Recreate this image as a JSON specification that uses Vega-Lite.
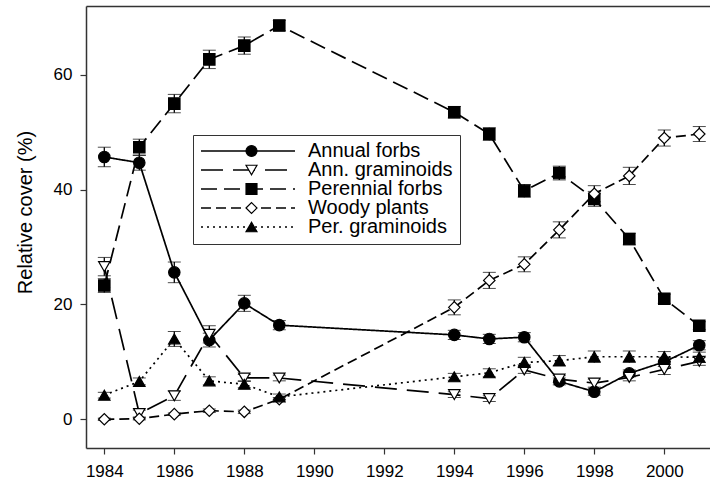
{
  "$schema": "https://vega.github.io/schema/vega-lite/v6.json",
  "width": 624,
  "height": 442,
  "autosize": {"type": "none"},
  "padding": {"left": 86, "top": 6, "right": 0, "bottom": 32},
  "background": "white",
  "config": {
    "view": {"stroke": null},
    "font": "Liberation Sans",
    "axis": {"grid": false, "domainColor": "#333", "tickColor": "#333", "labelColor": "black", "titleColor": "black", "labelFont": "Liberation Sans", "titleFont": "Liberation Sans", "domainWidth": 1.5, "tickWidth": 1.2}
  },
  "data": {"values": [
    {"year": 1984, "series": "Annual forbs", "group": "Annual forbs", "cover": 45.7, "err": 1.7},
    {"year": 1985, "series": "Annual forbs", "group": "Annual forbs", "cover": 44.7, "err": 1.3},
    {"year": 1986, "series": "Annual forbs", "group": "Annual forbs", "cover": 25.6, "err": 1.8},
    {"year": 1987, "series": "Annual forbs", "group": "Annual forbs", "cover": 13.8, "err": 1.2},
    {"year": 1988, "series": "Annual forbs", "group": "Annual forbs", "cover": 20.2, "err": 1.4},
    {"year": 1989, "series": "Annual forbs", "group": "Annual forbs", "cover": 16.4, "err": 0.8},
    {"year": 1994, "series": "Annual forbs", "group": "Annual forbs", "cover": 14.7, "err": 0.8},
    {"year": 1995, "series": "Annual forbs", "group": "Annual forbs", "cover": 14.0, "err": 0.8},
    {"year": 1996, "series": "Annual forbs", "group": "Annual forbs", "cover": 14.3, "err": 0.8},
    {"year": 1997, "series": "Annual forbs", "group": "Annual forbs", "cover": 6.6, "err": 0.6},
    {"year": 1998, "series": "Annual forbs", "group": "Annual forbs", "cover": 4.8, "err": 0.6},
    {"year": 1999, "series": "Annual forbs", "group": "Annual forbs", "cover": 8.0, "err": 0.6},
    {"year": 2000, "series": "Annual forbs", "group": "Annual forbs", "cover": 10.0, "err": 0.8},
    {"year": 2001, "series": "Annual forbs", "group": "Annual forbs", "cover": 12.9, "err": 0.8},
    {"year": 1984, "series": "Ann. graminoids", "group": "Ann. graminoids", "cover": 26.6, "err": 1.6},
    {"year": 1985, "series": "Ann. graminoids", "group": "Ann. graminoids", "cover": 1.0, "err": 0.6},
    {"year": 1986, "series": "Ann. graminoids", "group": "Ann. graminoids", "cover": 4.1, "err": 0.8},
    {"year": 1987, "series": "Ann. graminoids", "group": "Ann. graminoids", "cover": 14.8, "err": 1.5},
    {"year": 1988, "series": "Ann. graminoids", "group": "Ann. graminoids", "cover": 7.2, "err": 0.6},
    {"year": 1989, "series": "Ann. graminoids", "group": "Ann. graminoids", "cover": 7.2, "err": 0.5},
    {"year": 1994, "series": "Ann. graminoids", "group": "Ann. graminoids", "cover": 4.3, "err": 0.5},
    {"year": 1995, "series": "Ann. graminoids", "group": "Ann. graminoids", "cover": 3.6, "err": 0.5},
    {"year": 1996, "series": "Ann. graminoids", "group": "Ann. graminoids", "cover": 8.6, "err": 0.6},
    {"year": 1997, "series": "Ann. graminoids", "group": "Ann. graminoids", "cover": 7.0, "err": 0.6},
    {"year": 1998, "series": "Ann. graminoids", "group": "Ann. graminoids", "cover": 6.3, "err": 0.7},
    {"year": 1999, "series": "Ann. graminoids", "group": "Ann. graminoids", "cover": 7.3, "err": 0.6},
    {"year": 2000, "series": "Ann. graminoids", "group": "Ann. graminoids", "cover": 8.7, "err": 0.9},
    {"year": 2001, "series": "Ann. graminoids", "group": "Ann. graminoids", "cover": 10.1, "err": 0.7},
    {"year": 1984, "series": "Perennial forbs", "group": "Perennial forbs", "cover": 23.3, "err": 1.2},
    {"year": 1985, "series": "Perennial forbs", "group": "Perennial forbs", "cover": 47.4, "err": 1.4},
    {"year": 1986, "series": "Perennial forbs", "group": "Perennial forbs", "cover": 55.0, "err": 1.6},
    {"year": 1987, "series": "Perennial forbs", "group": "Perennial forbs", "cover": 62.7, "err": 1.6},
    {"year": 1988, "series": "Perennial forbs", "group": "Perennial forbs", "cover": 65.1, "err": 1.5},
    {"year": 1989, "series": "Perennial forbs", "group": "Perennial forbs", "cover": 68.6, "err": 0.9},
    {"year": 1994, "series": "Perennial forbs", "group": "Perennial forbs", "cover": 53.5, "err": 1.0},
    {"year": 1995, "series": "Perennial forbs", "group": "Perennial forbs", "cover": 49.7, "err": 1.1},
    {"year": 1996, "series": "Perennial forbs", "group": "Perennial forbs", "cover": 39.8, "err": 1.1},
    {"year": 1997, "series": "Perennial forbs", "group": "Perennial forbs", "cover": 42.9, "err": 1.2},
    {"year": 1998, "series": "Perennial forbs", "group": "Perennial forbs", "cover": 38.4, "err": 1.3},
    {"year": 1999, "series": "Perennial forbs", "group": "Perennial forbs", "cover": 31.4, "err": 1.0},
    {"year": 2000, "series": "Perennial forbs", "group": "Perennial forbs", "cover": 21.0, "err": 0.8},
    {"year": 2001, "series": "Perennial forbs", "group": "Perennial forbs", "cover": 16.3, "err": 0.7},
    {"year": 1984, "series": "Woody plants", "group": "Woody plants", "cover": 0.0, "err": 0.2},
    {"year": 1985, "series": "Woody plants", "group": "Woody plants", "cover": 0.1, "err": 0.2},
    {"year": 1986, "series": "Woody plants", "group": "Woody plants", "cover": 0.9, "err": 0.2},
    {"year": 1987, "series": "Woody plants", "group": "Woody plants", "cover": 1.5, "err": 0.3},
    {"year": 1988, "series": "Woody plants", "group": "Woody plants", "cover": 1.3, "err": 0.3},
    {"year": 1989, "series": "Woody plants", "group": "Woody plants", "cover": 3.5, "err": 0.3},
    {"year": 1994, "series": "Woody plants", "group": "Woody plants", "cover": 19.5, "err": 1.3},
    {"year": 1995, "series": "Woody plants", "group": "Woody plants", "cover": 24.2, "err": 1.4},
    {"year": 1996, "series": "Woody plants", "group": "Woody plants", "cover": 27.0, "err": 1.3},
    {"year": 1997, "series": "Woody plants", "group": "Woody plants", "cover": 33.0, "err": 1.4},
    {"year": 1998, "series": "Woody plants", "group": "Woody plants", "cover": 39.3, "err": 1.4},
    {"year": 1999, "series": "Woody plants", "group": "Woody plants", "cover": 42.4, "err": 1.5},
    {"year": 2000, "series": "Woody plants", "group": "Woody plants", "cover": 49.0, "err": 1.4},
    {"year": 2001, "series": "Woody plants", "group": "Woody plants", "cover": 49.7, "err": 1.3},
    {"year": 1984, "series": "Per. graminoids", "group": "Per. graminoids", "cover": 4.2, "err": 0.5},
    {"year": 1985, "series": "Per. graminoids", "group": "Per. graminoids", "cover": 6.6, "err": 0.6},
    {"year": 1986, "series": "Per. graminoids", "group": "Per. graminoids", "cover": 14.0, "err": 1.3},
    {"year": 1987, "series": "Per. graminoids", "group": "Per. graminoids", "cover": 6.7, "err": 0.7},
    {"year": 1988, "series": "Per. graminoids", "group": "Per. graminoids", "cover": 6.1, "err": 0.6},
    {"year": 1989, "series": "Per. graminoids", "group": "Per. graminoids", "cover": 3.9, "err": 0.5},
    {"year": 1994, "series": "Per. graminoids", "group": "Per. graminoids", "cover": 7.4, "err": 0.6},
    {"year": 1995, "series": "Per. graminoids", "group": "Per. graminoids", "cover": 8.1, "err": 0.7},
    {"year": 1996, "series": "Per. graminoids", "group": "Per. graminoids", "cover": 9.9, "err": 0.9},
    {"year": 1997, "series": "Per. graminoids", "group": "Per. graminoids", "cover": 10.2, "err": 0.9},
    {"year": 1998, "series": "Per. graminoids", "group": "Per. graminoids", "cover": 10.9, "err": 1.0},
    {"year": 1999, "series": "Per. graminoids", "group": "Per. graminoids", "cover": 10.9, "err": 1.0},
    {"year": 2000, "series": "Per. graminoids", "group": "Per. graminoids", "cover": 10.9, "err": 0.9},
    {"year": 2001, "series": "Per. graminoids", "group": "Per. graminoids", "cover": 10.8, "err": 0.9}
  ]},
  "resolve": {"axis": {"x": "independent"}},
  "layer": [
    {
      "mark": {"type": "line", "color": "black", "strokeWidth": 1.7},
      "encoding": {
        "x": {"field": "year", "type": "quantitative",
              "scale": {"domain": [1983.477, 2001.306], "nice": false, "zero": false},
              "axis": {"values": [1984, 1986, 1988, 1990, 1992, 1994, 1996, 1998, 2000], "format": "d", "title": null, "labelFontSize": 17, "tickSize": 6, "labelPadding": 9, "labelFlush": false}},
        "y": {"field": "cover", "type": "quantitative",
              "scale": {"domain": [-5, 72], "nice": false, "zero": false},
              "axis": {"values": [0, 20, 40, 60], "title": "Relative cover (%)", "titleFontSize": 20, "titleFontWeight": "normal", "titleX": -51, "titleY": 206, "titleAngle": -90, "titleBaseline": "bottom", "titleAlign": "center", "labelFontSize": 17, "tickSize": 6, "labelPadding": 8, "labelFlush": false}},
        "detail": {"field": "group"},
        "strokeDash": {"field": "group", "type": "nominal",
          "sort": ["Annual forbs", "Ann. graminoids", "Perennial forbs", "Woody plants", "Per. graminoids"],
          "scale": {"range": [[1, 0], [22, 10], [16, 7], [10, 5], [2, 4]]},
          "legend": {"orient": "none", "legendX": 107, "legendY": 129, "title": null, "symbolType": "stroke", "symbolSize": 8836, "symbolStrokeColor": "black", "symbolStrokeWidth": 1.6, "labelFontSize": 20, "labelFont": "Liberation Sans", "labelColor": "black", "labelOffset": 12, "clipHeight": 18, "rowPadding": -2.5, "padding": 7, "strokeColor": "#333", "fillColor": "white", "labelLimit": 300}}
      }
    },
    {
      "mark": {"type": "errorbar", "ticks": {"size": 13, "color": "black", "strokeWidth": 1.3}, "rule": {"color": "black", "strokeWidth": 1.3}},
      "encoding": {
        "x": {"field": "year", "type": "quantitative", "axis": null},
        "y": {"field": "cover", "type": "quantitative",
              "axis": {"values": [0, 20, 40, 60], "title": "Relative cover (%)", "titleFontSize": 20, "titleFontWeight": "normal", "titleX": -51, "titleY": 206, "titleAngle": -90, "titleBaseline": "bottom", "titleAlign": "center", "labelFontSize": 17, "tickSize": 6, "labelPadding": 8, "labelFlush": false}},
        "yError": {"field": "err"}
      }
    },
    {
      "mark": {"type": "point", "stroke": "black", "strokeWidth": 1.2, "size": 130, "opacity": 1, "fillOpacity": 1},
      "encoding": {
        "x": {"field": "year", "type": "quantitative",
              "axis": {"orient": "top", "labels": false, "ticks": false, "title": null, "domain": true}},
        "y": {"field": "cover", "type": "quantitative",
              "axis": {"values": [0, 20, 40, 60], "title": "Relative cover (%)", "titleFontSize": 20, "titleFontWeight": "normal", "titleX": -51, "titleY": 206, "titleAngle": -90, "titleBaseline": "bottom", "titleAlign": "center", "labelFontSize": 17, "tickSize": 6, "labelPadding": 8, "labelFlush": false}},
        "shape": {"field": "series", "type": "nominal",
          "scale": {"domain": ["Annual forbs", "Ann. graminoids", "Perennial forbs", "Woody plants", "Per. graminoids"],
                    "range": ["circle", "triangle-down", "square", "diamond", "triangle-up"]},
          "legend": {"orient": "none", "legendX": 148.5, "legendY": 129, "title": null, "symbolSize": 120, "symbolStrokeColor": "black", "symbolStrokeWidth": 1.2, "labelFontSize": 20, "labelExpr": "''", "labelOpacity": 0, "clipHeight": 18, "rowPadding": -2.5, "padding": 7, "labelOffset": 12,
                     "encoding": {"symbols": {"stroke": {"value": "black"}, "strokeWidth": {"value": 1.2}}}}},
        "fill": {"field": "series", "type": "nominal",
          "scale": {"domain": ["Annual forbs", "Ann. graminoids", "Perennial forbs", "Woody plants", "Per. graminoids"],
                    "range": ["black", "white", "black", "white", "black"]},
          "legend": {"orient": "none", "legendX": 148.5, "legendY": 129, "title": null, "symbolSize": 120, "symbolStrokeColor": "black", "symbolStrokeWidth": 1.2, "labelFontSize": 20, "labelExpr": "''", "labelOpacity": 0, "clipHeight": 18, "rowPadding": -2.5, "padding": 7, "labelOffset": 12,
                     "encoding": {"symbols": {"stroke": {"value": "black"}, "strokeWidth": {"value": 1.2}}}}}
      }
    }
  ]
}
